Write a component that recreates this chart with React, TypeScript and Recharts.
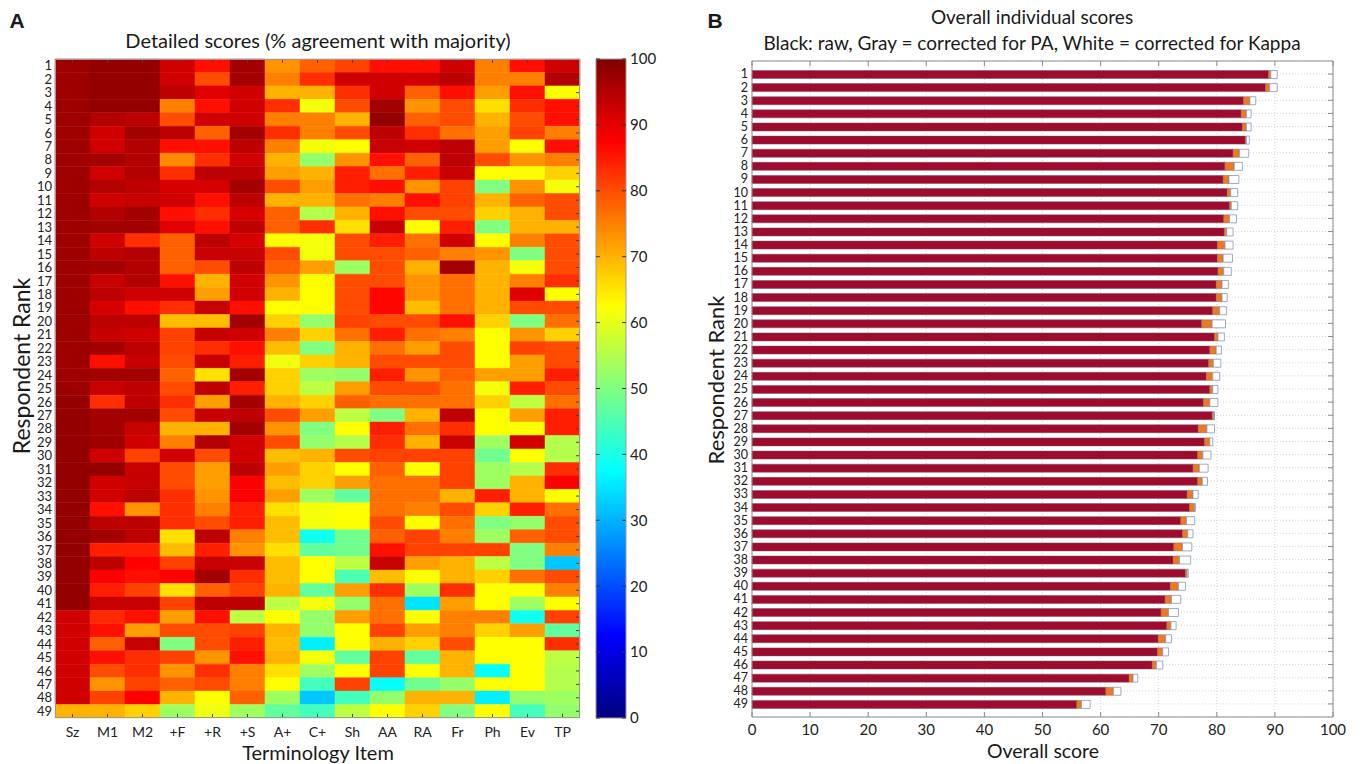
import React from 'react';
import { BarChart, Bar, XAxis, YAxis, CartesianGrid, Cell } from 'recharts';

const FONT = 'Lato, "Open Sans", sans-serif';

const ITEMS = ['Sz', 'M1', 'M2', '+F', '+R', '+S', 'A+', 'C+', 'Sh', 'AA', 'RA', 'Fr', 'Ph', 'Ev', 'TP'];
const RANKS = [
  1, 2, 3, 4, 5, 6, 7, 8, 9, 10, 11, 12, 13, 14, 15, 16, 17, 18, 19, 20, 21, 22, 23, 24, 25,
  26, 27, 28, 29, 30, 31, 32, 33, 34, 35, 36, 37, 38, 39, 40, 41, 42, 43, 44, 45, 46, 47, 48, 49,
];

// % agreement with majority, one array per terminology item (rank 1 .. 49)
const SZ = [97, 97, 97, 97, 97, 97, 97, 97, 97, 97, 97, 97, 97, 97, 97, 97, 97, 97, 97, 97, 97, 97, 97, 97, 97, 98, 98, 98, 98, 98, 98, 98, 98, 98, 98, 98, 98, 98, 98, 98, 98, 92, 92, 92, 92, 92, 92, 92, 70];
const M1 = [98, 98, 98, 98, 95, 92, 92, 96.5, 92, 95, 92, 95, 96.5, 92, 94, 96.5, 93, 94, 91.5, 94, 93, 96.5, 86, 96.5, 93, 83, 96.5, 96.5, 97, 92, 98, 92, 92, 86, 94, 96.5, 84.5, 94, 87.5, 84.5, 93, 83.5, 86, 78, 86, 80, 73, 81, 70];
const M2 = [98, 98, 98, 98, 94, 96.5, 95, 95, 95, 94, 93, 96.5, 96.5, 83, 95, 95, 95, 92, 86, 94, 92, 94, 93, 96.5, 94, 94, 96.5, 93, 92, 81, 93, 93, 94, 73, 94, 94, 84.5, 87.5, 86, 81, 93, 86, 72, 93, 83, 83, 81, 87.5, 67];
const PF = [92, 92, 94, 75, 80, 94, 86, 74, 83, 91.5, 92, 86, 90.5, 78, 78, 78, 86, 92, 83, 69, 81, 81, 80, 78, 80, 83, 80, 70, 75, 92, 80, 80, 83, 83, 83, 65.5, 69, 81, 87.5, 65.5, 81, 72, 80, 50, 81, 73, 78, 70, 53];
const PR = [86, 80, 90.5, 86, 92, 78, 86, 83, 94, 91.5, 86, 83, 86, 94, 93, 80, 70, 72, 93, 69, 93, 83, 93, 65.5, 94, 72, 93, 70, 95, 80, 72, 72, 73, 75, 80, 94, 84.5, 93, 96.5, 78, 94, 86, 80, 80, 73, 83, 80, 62.5, 61];
const PS = [96.5, 96.5, 92, 92, 92, 96.5, 94, 92, 94, 96.5, 94, 91.5, 94, 91.5, 93, 94, 92, 92, 86, 96.5, 92, 86, 84.5, 96.5, 84.5, 96.5, 94, 96.5, 92, 92, 94, 87.5, 87.5, 84.5, 84.5, 75, 73, 93, 83, 81, 94, 56, 81, 84.5, 86, 75, 75, 78, 53];
const AP = [73, 75, 70, 83, 75, 83, 75, 70, 72, 80, 70, 78, 78, 62.5, 80, 78, 73, 70, 62.5, 67, 75, 69, 61, 67, 67, 70, 80, 73, 80, 69, 72, 69, 72, 65.5, 69, 69, 65.5, 69, 69, 70, 56, 62.5, 70, 69, 70, 65.5, 62.5, 53, 47];
const CP = [78, 83, 70, 61.5, 75, 75, 61.5, 52, 70, 72, 70, 55, 83, 61.5, 61.5, 72, 62.5, 62.5, 62.5, 52, 67, 50, 67, 53, 56, 67, 72, 50, 52, 70, 67, 67, 53, 61.5, 61.5, 39, 47, 62.5, 62.5, 47, 61.5, 52, 52, 36, 61.5, 53, 44, 32, 44];
const SH = [81, 92, 83, 80, 70, 80, 62.5, 73, 84.5, 84.5, 76.5, 70, 65.5, 80, 80, 53, 80, 80, 80, 81, 76.5, 70, 70, 52, 72, 78, 56, 62.5, 55, 80, 62.5, 72, 47, 62.5, 62.5, 48.5, 48.5, 56, 45, 72, 52, 72, 62.5, 62.5, 47, 62.5, 81, 44, 56];
const AA = [86, 92, 92, 96.5, 98, 94, 93, 86, 76.5, 86, 75, 86, 93, 84.5, 80, 80, 80, 87, 87, 80, 84.5, 76.5, 80, 84.5, 80, 76.5, 50, 84.5, 83, 81, 78, 76.5, 76.5, 76.5, 80, 78, 86, 93, 69, 83, 76.5, 76.5, 81, 70, 81, 81, 38, 52, 62.5];
const RA = [86, 92, 78, 73, 78, 83, 92, 78, 84.5, 73, 86, 80, 62.5, 76.5, 78, 70, 73, 73, 69, 80, 76.5, 72, 80, 73, 80, 76.5, 70, 76.5, 70, 81, 62.5, 76.5, 76.5, 75, 62.5, 81, 81, 72, 62.5, 53, 35, 62.5, 72, 67, 47, 62.5, 48.5, 70, 67];
const FR = [92, 94, 86, 80, 80, 76.5, 94, 94, 93, 81, 81, 80, 84.5, 92, 75, 96.5, 76.5, 76.5, 76.5, 86, 75, 80, 80, 78, 76.5, 76.5, 94, 83, 93, 81, 81, 81, 70, 80, 76.5, 75, 81, 70, 70, 83, 72, 75, 75, 80, 70, 70, 52, 70, 50];
const PH = [75, 75, 72, 65.5, 70, 72, 72, 80, 62.5, 50, 70, 67, 50, 62.5, 73, 70, 70, 70, 70, 67, 62.5, 62.5, 62.5, 72, 61.5, 67, 62.5, 62.5, 53, 48.5, 53, 53, 84.5, 67, 50, 53, 81, 56, 67, 62.5, 62.5, 75, 67, 62.5, 62.5, 38, 62.5, 36, 62.5];
const EV = [86, 75, 86, 83, 80, 81, 62.5, 73, 62.5, 73, 78, 70, 70, 75, 50, 61.5, 75, 90.5, 80, 50, 73, 81, 72, 72, 84.5, 56, 72, 62.5, 92, 62.5, 55, 70, 70, 84.5, 52, 78, 50, 50, 76.5, 62.5, 53, 39, 72, 62.5, 62.5, 62.5, 62.5, 52, 44];
const TP = [92, 95, 62.5, 86, 86, 75, 86, 75, 67, 61.5, 80, 80, 70, 80, 80, 80, 83, 62.5, 80, 76.5, 67, 80, 80, 84.5, 80, 76.5, 84.5, 84.5, 55, 55, 83, 87.5, 62.5, 76.5, 80, 80, 75, 32, 80, 75, 62.5, 81, 47, 83, 56, 55, 55, 53, 52];

const SCORES = [SZ, M1, M2, PF, PR, PS, AP, CP, SH, AA, RA, FR, PH, EV, TP];

// overall individual scores
const RAW = [88.9, 88.4, 84.6, 84.2, 84.4, 84.9, 82.8, 81.4, 81.1, 81.8, 82.2, 81.2, 81.3, 80.1, 80.1, 80.2, 79.9, 79.9, 79.3, 77.4, 79.6, 78.8, 78.6, 78.2, 78.8, 77.7, 79.2, 76.8, 77.9, 76.7, 75.9, 76.7, 74.9, 75.3, 73.8, 74.1, 72.6, 72.5, 74.6, 72.0, 71.1, 70.4, 71.4, 69.9, 69.8, 68.9, 64.9, 60.9, 55.9];
const PA = [89.3, 89.1, 85.7, 85.1, 85.1, 85.1, 83.9, 83.0, 82.1, 82.4, 82.5, 82.2, 81.7, 81.4, 81.1, 81.2, 80.9, 80.9, 80.5, 79.2, 80.2, 79.9, 79.4, 79.3, 79.3, 78.8, 79.5, 78.3, 78.8, 77.6, 77.0, 77.5, 75.9, 76.2, 74.8, 75.0, 74.1, 73.6, 74.9, 73.4, 72.2, 71.7, 72.1, 71.2, 70.7, 69.6, 65.6, 62.2, 56.7];
const KAPPA = [90.4, 90.4, 86.7, 85.9, 85.9, 85.6, 85.5, 84.4, 83.8, 83.6, 83.6, 83.4, 82.8, 82.8, 82.7, 82.5, 82.0, 81.8, 81.7, 81.5, 81.3, 80.8, 80.7, 80.5, 80.2, 80.2, 79.6, 79.6, 79.3, 79.0, 78.5, 78.4, 76.8, 76.3, 76.2, 75.9, 75.7, 75.5, 75.1, 74.6, 73.8, 73.4, 73.0, 72.2, 71.7, 70.7, 66.4, 63.5, 58.2];

const SCORE_TICKS = [0, 10, 20, 30, 40, 50, 60, 70, 80, 90, 100];
const CB_STOPS = [100, 87.5, 62.5, 37.5, 12.5, 0];

// MATLAB jet colormap
const jet = (v: number) => {
  const t = v / 100;
  const ch = (c: number) => Math.round(255 * Math.max(0, Math.min(1, 1.5 - Math.abs(4 * t - c))));
  return `rgb(${ch(3)},${ch(2)},${ch(1)})`;
};

const heatData = ITEMS.map((item) => {
  const row: Record<string, string | number> = { item };
  RANKS.forEach((r) => {
    row[`r${r}`] = 1;
  });
  return row;
});
const heatTicks = RANKS.map((r) => r - 0.5);

const scoreData = RANKS.map((r, i) => ({
  rank: String(r),
  raw: RAW[i],
  pa: +(PA[i] - RAW[i]).toFixed(2),
  kappa: +(KAPPA[i] - PA[i]).toFixed(2),
}));

const tickStyle = (size: number) => ({ fontSize: size, fill: '#222', fontFamily: FONT });
const blank = () => '';

const Label = ({ x, y, size, rotate, bold, children }: any) => (
  <div
    style={{
      position: 'absolute',
      left: x,
      top: y,
      transform: `translate(-50%, -50%)${rotate ? ` rotate(${rotate}deg)` : ''}`,
      fontSize: size,
      fontWeight: bold ? 700 : 400,
      fontFamily: bold ? 'Arial, "Liberation Sans", sans-serif' : FONT,
      whiteSpace: 'nowrap',
      lineHeight: 1,
      color: '#1a1a1a',
    }}
  >
    {children}
  </div>
);

const Heatmap = () => (
  <div style={{ position: 'absolute', left: 0, top: 0 }}>
    <BarChart
      width={585}
      height={764}
      data={heatData}
      margin={{ top: 59, right: 5, bottom: 16, left: 15 }}
      barCategoryGap={0}
      barGap={0}
    >
      {RANKS.map((r, i) => (
        <Bar key={r} dataKey={`r${r}`} stackId="h" isAnimationActive={false}>
          {ITEMS.map((it, c) => {
            const f = jet(SCORES[c][i]);
            return <Cell key={it} fill={f} stroke={f} strokeWidth={0.5} />;
          })}
        </Bar>
      ))}
      <XAxis
        dataKey="item"
        interval={0}
        height={30}
        axisLine={false}
        tickSize={-4}
        tickMargin={13}
        tickLine={{ stroke: '#444' }}
        tick={tickStyle(14)}
      />
      <XAxis
        xAxisId="top"
        dataKey="item"
        orientation="top"
        mirror
        interval={0}
        axisLine={false}
        tickSize={4}
        tickLine={{ stroke: '#444' }}
        tickFormatter={blank}
      />
      <YAxis
        type="number"
        domain={[0, 49]}
        reversed
        ticks={heatTicks}
        interval={0}
        width={40}
        axisLine={false}
        tickLine={false}
        tickSize={0}
        tickMargin={3}
        tickFormatter={(v: number) => String(v + 0.5)}
        tick={tickStyle(13)}
      />
      <YAxis
        yAxisId="r"
        type="number"
        orientation="right"
        mirror
        domain={[0, 49]}
        allowDataOverflow
        reversed
        ticks={heatTicks}
        interval={0}
        axisLine={false}
        tickSize={4}
        tickLine={{ stroke: '#444' }}
        tickFormatter={blank}
      />
    </BarChart>
    <div
      style={{
        position: 'absolute',
        left: 55,
        top: 59,
        width: 525,
        height: 659,
        border: '1px solid #9a9a9a',
        boxSizing: 'border-box',
        pointerEvents: 'none',
      }}
    />
  </div>
);

const ColorBar = () => (
  <div style={{ position: 'absolute', left: 590, top: 0 }}>
    <BarChart
      width={90}
      height={764}
      data={[{ name: 'scale', top: 100 }]}
      margin={{ top: 59, right: 20, bottom: 46, left: 6 }}
      barCategoryGap={0}
    >
      <defs>
        <linearGradient id="jetGrad" x1="0" y1="0" x2="0" y2="1">
          {CB_STOPS.map((v) => (
            <stop key={v} offset={`${100 - v}%`} stopColor={jet(v)} />
          ))}
        </linearGradient>
      </defs>
      <XAxis dataKey="name" hide />
      <Bar dataKey="top" fill="url(#jetGrad)" stroke="#9a9a9a" strokeWidth={1} isAnimationActive={false} />
      <YAxis
        orientation="right"
        domain={[0, 100]}
        ticks={SCORE_TICKS}
        interval={0}
        width={34}
        axisLine={false}
        tickSize={-4}
        tickMargin={8}
        tickLine={{ stroke: '#333' }}
        tick={tickStyle(15)}
      />
      <YAxis
        yAxisId="l"
        orientation="left"
        mirror
        domain={[0, 100]}
        allowDataOverflow
        ticks={SCORE_TICKS}
        interval={0}
        axisLine={false}
        tickSize={4}
        tickLine={{ stroke: '#333' }}
        tickFormatter={blank}
      />
    </BarChart>
  </div>
);

const ScoresChart = () => (
  <div style={{ position: 'absolute', left: 680, top: 0 }}>
    <BarChart
      layout="vertical"
      width={680}
      height={764}
      data={scoreData}
      margin={{ top: 61, right: 27, bottom: 17, left: 32 }}
    >
      <CartesianGrid stroke="#d6d6d6" strokeDasharray="1 2" />
      <Bar dataKey="raw" stackId="s" barSize={8} fill="#9e0b2f" stroke="#6f5560" strokeWidth={0.5} isAnimationActive={false} />
      <Bar dataKey="pa" stackId="s" barSize={8} fill="#ec7a22" stroke="#8a6a5a" strokeWidth={0.5} isAnimationActive={false} />
      <Bar dataKey="kappa" stackId="s" barSize={8} fill="#ffffff" stroke="#8797b8" strokeWidth={0.8} isAnimationActive={false} />
      <XAxis
        type="number"
        domain={[0, 100]}
        ticks={SCORE_TICKS}
        interval={0}
        height={30}
        stroke="#8c8c8c"
        tickSize={-5}
        tickMargin={12}
        tick={tickStyle(15)}
      />
      <XAxis
        xAxisId="top"
        type="number"
        orientation="top"
        mirror
        domain={[0, 100]}
        allowDataOverflow
        ticks={SCORE_TICKS}
        interval={0}
        stroke="#8c8c8c"
        tickSize={5}
        tickFormatter={blank}
      />
      <YAxis
        type="category"
        dataKey="rank"
        width={40}
        interval={0}
        stroke="#8c8c8c"
        tickLine={false}
        tickSize={0}
        tickMargin={4}
        padding={{ top: 6.5, bottom: 6.5 }}
        tick={tickStyle(12.5)}
      />
      <YAxis
        yAxisId="r"
        type="category"
        dataKey="rank"
        orientation="right"
        mirror
        interval={0}
        stroke="#8c8c8c"
        tickSize={5}
        padding={{ top: 6.5, bottom: 6.5 }}
        tickFormatter={blank}
      />
    </BarChart>
  </div>
);

export default function App() {
  return (
    <div
      style={{
        position: 'absolute',
        left: 0,
        top: 0,
        width: 1360,
        height: 764,
        background: '#ffffff',
        fontFamily: FONT,
        overflow: 'hidden',
      }}
    >
      <Heatmap />
      <ColorBar />
      <ScoresChart />

      <Label x={17} y={20} size={21} bold>A</Label>
      <Label x={318} y={40} size={20}>Detailed scores (% agreement with majority)</Label>
      <Label x={318} y={752} size={20}>Terminology Item</Label>
      <Label x={21} y={366} size={23} rotate={-90}>Respondent Rank</Label>

      <Label x={715} y={20} size={21} bold>B</Label>
      <Label x={1032} y={16} size={19}>Overall individual scores</Label>
      <Label x={1032} y={42} size={19}>Black: raw, Gray = corrected for PA, White = corrected for Kappa</Label>
      <Label x={1043} y={751} size={19.5}>Overall score</Label>
      <Label x={716} y={380} size={22} rotate={-90}>Respondent Rank</Label>
    </div>
  );
}
